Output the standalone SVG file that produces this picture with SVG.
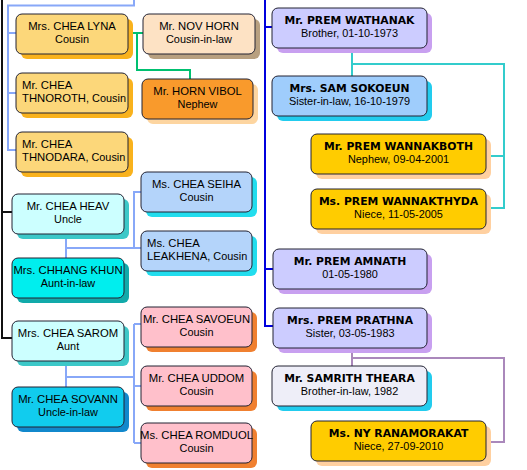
<svg xmlns="http://www.w3.org/2000/svg" width="527" height="470" viewBox="0 0 527 470">
<style>
.b{stroke:#222233;stroke-width:1}
.n{font-family:"Liberation Sans",Arial,sans-serif;font-size:11.3px;fill:#000}
.s{font-family:"Liberation Sans",Arial,sans-serif;font-size:10.9px;fill:#000}
.rn{font-family:"DejaVu Sans",Verdana,sans-serif;font-weight:bold;font-size:10.8px;fill:#000}
.rs{font-family:"Liberation Sans",Arial,sans-serif;font-size:10.9px;fill:#000}
.c{text-anchor:middle}
.ln{fill:none;stroke-width:2}
</style>
<rect width="527" height="470" fill="#fff"/>
<g id="connectors">
<path class="ln" stroke="#111" d="M2,0V338H12M2,212H12"/>
<path class="ln" stroke="#88a8f8" d="M134,0V5.5H8V150H16M8,33H16M8,93H16"/>
<path class="ln" stroke="#00c070" d="M128,33H143M137,33V70H190V79"/>
<path class="ln" stroke="#88a8f8" d="M66,234V258M66,248H141M134,248V192H141"/>
<path class="ln" stroke="#88a8f8" d="M66,361V387M66,377H134M134,324V443M134,324H141M134,386H141M134,443H141"/>
<path class="ln" stroke="#0000dd" d="M265,0V326H273M265,27H272M265,269H273"/>
<path class="ln" stroke="#33cccc" d="M352,48V76M352,64H504V208H486M486,156H504"/>
<path class="ln" stroke="#aa88bb" d="M352,348V366M352,358H504V442H486"/>
</g>
<g id="lyna"><rect x="21" y="19" width="112" height="40" rx="6" fill="#f9b21d"/><rect class="b" x="16" y="14" width="112" height="40" rx="6" fill="#fcd77a"/><text class="n c" x="72" y="30">Mrs. CHEA LYNA</text><text class="s c" x="72" y="42.5">Cousin</text></g>
<g id="novhorn"><rect x="148" y="19" width="112" height="40" rx="6" fill="#b8a080"/><rect class="b" x="143" y="14" width="112" height="40" rx="6" fill="#fde2c4"/><text class="n c" x="199" y="30">Mr. NOV HORN</text><text class="s c" x="199" y="42.5">Cousin-in-law</text></g>
<g id="thnoroth"><rect x="21" y="78" width="112" height="40" rx="6" fill="#f9b21d"/><rect class="b" x="16" y="73" width="112" height="40" rx="6" fill="#fcd77a"/><text class="n" x="22" y="89">Mr. CHEA</text><text class="n" x="22" y="101.5">THNOROTH<tspan class="s">, Cousin</tspan></text></g>
<g id="vibol"><rect x="147" y="84" width="111" height="40" rx="6" fill="#fdd5a0"/><rect class="b" x="142" y="79" width="111" height="40" rx="6" fill="#f99a2c"/><text class="n c" x="197.5" y="95">Mr. HORN VIBOL</text><text class="s c" x="197.5" y="107.5">Nephew</text></g>
<g id="thnodara"><rect x="21" y="137" width="112" height="40" rx="6" fill="#f9b21d"/><rect class="b" x="16" y="132" width="112" height="40" rx="6" fill="#fcd77a"/><text class="n" x="22" y="148">Mr. CHEA</text><text class="n" x="22" y="160.5">THNODARA<tspan class="s">, Cousin</tspan></text></g>
<g id="heav"><rect x="17" y="199" width="112" height="40" rx="6" fill="#3cc8c8"/><rect class="b" x="12" y="194" width="112" height="40" rx="6" fill="#ccffff"/><text class="n c" x="68" y="210">Mr. CHEA HEAV</text><text class="s c" x="68" y="222.5">Uncle</text></g>
<g id="seiha"><rect x="146" y="177" width="111" height="40" rx="6" fill="#22ddee"/><rect class="b" x="141" y="172" width="111" height="40" rx="6" fill="#b4d4fa"/><text class="n c" x="196.5" y="188">Ms. CHEA SEIHA</text><text class="s c" x="196.5" y="200.5">Cousin</text></g>
<g id="leakhena"><rect x="146" y="236" width="111" height="40" rx="6" fill="#22ddee"/><rect class="b" x="141" y="231" width="111" height="40" rx="6" fill="#b4d4fa"/><text class="n" x="147" y="247">Ms. CHEA</text><text class="n" x="147" y="259.5">LEAKHENA<tspan class="s">, Cousin</tspan></text></g>
<g id="khun"><rect x="17" y="263" width="112" height="40" rx="6" fill="#11aaaa"/><rect class="b" x="12" y="258" width="112" height="40" rx="6" fill="#00eeee"/><text class="n c" x="68" y="274">Mrs. CHHANG KHUN</text><text class="s c" x="68" y="286.5">Aunt-in-law</text></g>
<g id="sarom"><rect x="17" y="326" width="112" height="40" rx="6" fill="#3cc8c8"/><rect class="b" x="12" y="321" width="112" height="40" rx="6" fill="#ccffff"/><text class="n c" x="68" y="337">Mrs. CHEA SAROM</text><text class="s c" x="68" y="349.5">Aunt</text></g>
<g id="sovann"><rect x="17" y="392" width="112" height="40" rx="6" fill="#1188cc"/><rect class="b" x="12" y="387" width="112" height="40" rx="6" fill="#11ccee"/><text class="n c" x="68" y="403">Mr. CHEA SOVANN</text><text class="s c" x="68" y="415.5">Uncle-in-law</text></g>
<g id="savoeun"><rect x="146" y="312" width="111" height="40" rx="6" fill="#f08030"/><rect class="b" x="141" y="307" width="111" height="40" rx="6" fill="#ffc0cb" stroke="#000055"/><text class="n c" x="196.5" y="323">Mr. CHEA SAVOEUN</text><text class="s c" x="196.5" y="335.5">Cousin</text></g>
<g id="uddom"><rect x="146" y="371" width="111" height="40" rx="6" fill="#f08030"/><rect class="b" x="141" y="366" width="111" height="40" rx="6" fill="#ffc0cb" stroke="#000055"/><text class="n c" x="196.5" y="382">Mr. CHEA UDDOM</text><text class="s c" x="196.5" y="394.5">Cousin</text></g>
<g id="romduol"><rect x="146" y="428" width="111" height="40" rx="6" fill="#f08030"/><rect class="b" x="141" y="423" width="111" height="40" rx="6" fill="#ffc0cb" stroke="#000055"/><text class="n c" x="196.5" y="439">Ms. CHEA ROMDUOL</text><text class="s c" x="196.5" y="451.5">Cousin</text></g>
<g id="wathanak"><rect x="277" y="13" width="155" height="40" rx="6" fill="#c8a0f0"/><rect class="b" x="272" y="8" width="155" height="40" rx="6" fill="#ccccff"/><text class="rn c" x="349.5" y="24">Mr. PREM WATHANAK</text><text class="rs c" x="349.5" y="36.5">Brother, 01-10-1973</text></g>
<g id="sokoeun"><rect x="277" y="81" width="155" height="40" rx="6" fill="#22ccee"/><rect class="b" x="272" y="76" width="155" height="40" rx="6" fill="#9fcdfc"/><text class="rn c" x="349.5" y="92">Mrs. SAM SOKOEUN</text><text class="rs c" x="349.5" y="104.5">Sister-in-law, 16-10-1979</text></g>
<g id="wannakboth"><rect x="316" y="139" width="175" height="40" rx="6" fill="#ffd0a0"/><rect class="b" x="311" y="134" width="175" height="40" rx="6" fill="#ffcc00"/><text class="rn c" x="398.5" y="150">Mr. PREM WANNAKBOTH</text><text class="rs c" x="398.5" y="162.5">Nephew, 09-04-2001</text></g>
<g id="wannakthyda"><rect x="316" y="194" width="175" height="40" rx="6" fill="#ffd0a0"/><rect class="b" x="311" y="189" width="175" height="40" rx="6" fill="#ffcc00"/><text class="rn c" x="398.5" y="205">Ms. PREM WANNAKTHYDA</text><text class="rs c" x="398.5" y="217.5">Niece, 11-05-2005</text></g>
<g id="amnath"><rect x="278" y="254" width="154" height="40" rx="6" fill="#c8a0f0"/><rect class="b" x="273" y="249" width="154" height="40" rx="6" fill="#ccccff"/><text class="rn c" x="350" y="265">Mr. PREM AMNATH</text><text class="rs c" x="350" y="277.5">01-05-1980</text></g>
<g id="prathna"><rect x="278" y="313" width="154" height="40" rx="6" fill="#c8a0f0"/><rect class="b" x="273" y="308" width="154" height="40" rx="6" fill="#ccccff"/><text class="rn c" x="350" y="324">Mrs. PREM PRATHNA</text><text class="rs c" x="350" y="336.5">Sister, 03-05-1983</text></g>
<g id="theara"><rect x="277" y="371" width="155" height="40" rx="6" fill="#22ccee"/><rect class="b" x="272" y="366" width="155" height="40" rx="6" fill="#eeeef8"/><text class="rn c" x="349.5" y="382">Mr. SAMRITH THEARA</text><text class="rs c" x="349.5" y="394.5">Brother-in-law, 1982</text></g>
<g id="ranamorakat"><rect x="316" y="426" width="175" height="40" rx="6" fill="#ffd0a0"/><rect class="b" x="311" y="421" width="175" height="40" rx="6" fill="#ffcc00"/><text class="rn c" x="398.5" y="437">Ms. NY RANAMORAKAT</text><text class="rs c" x="398.5" y="449.5">Niece, 27-09-2010</text></g>
</svg>
